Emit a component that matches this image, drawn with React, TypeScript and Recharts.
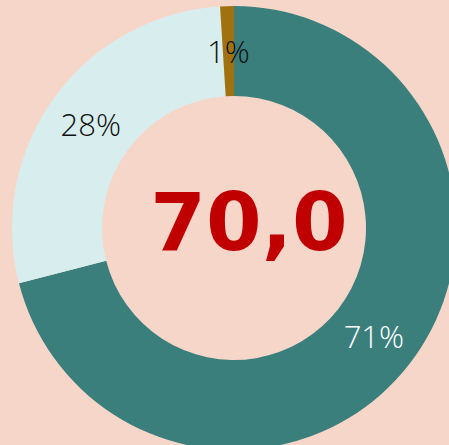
import { PieChart, Pie, Cell } from 'recharts'

const categories = ['A', 'B', 'C']
const values = [71, 28, 1]
const labels = ['71%', '28%', '1%']
const centerValue = '70,0'

const COLORS = ['#3b7f7c', '#d8edee', '#a0720f']
const LABEL_COLORS = ['#ffffff', '#111111', '#111111']

const data = categories.map((name, i) => ({ name, value: values[i], label: labels[i] }))

const RAD = Math.PI / 180

const renderLabel = (props: any) => {
  const { cx, cy, midAngle, innerRadius, outerRadius, index } = props
  const r = (innerRadius + outerRadius) / 2
  const x = cx + r * Math.cos(-midAngle * RAD)
  const y = cy + r * Math.sin(-midAngle * RAD)
  return (
    <text
      x={x}
      y={y}
      fill={LABEL_COLORS[index]}
      textAnchor="middle"
      dominantBaseline="central"
      fontSize={31}
      fontWeight={300}
      fontFamily="'Open Sans', sans-serif"
    >
      {data[index].label}
    </text>
  )
}

export default function App() {
  return (
    <div style={{ position: 'absolute', left: 0, top: 0, width: 449, height: 445, background: '#f7d6ca', overflow: 'hidden' }}>
      <PieChart width={449} height={445} margin={{ top: 0, right: 0, bottom: 0, left: 0 }}>
        <Pie
          data={data}
          dataKey="value"
          cx={234}
          cy={228}
          innerRadius={132}
          outerRadius={222}
          startAngle={90}
          endAngle={-270}
          stroke="none"
          label={renderLabel}
          labelLine={false}
          isAnimationActive={false}
        >
          {data.map((_e, i) => <Cell key={i} fill={COLORS[i]} />)}
        </Pie>
        <text
          x={249}
          y={250}
          textAnchor="middle"
          fill="#c00000"
          fontSize={80}
          fontWeight={700}
          fontFamily="'DejaVu Sans', sans-serif"
        >
          {centerValue}
        </text>
      </PieChart>
    </div>
  )
}
